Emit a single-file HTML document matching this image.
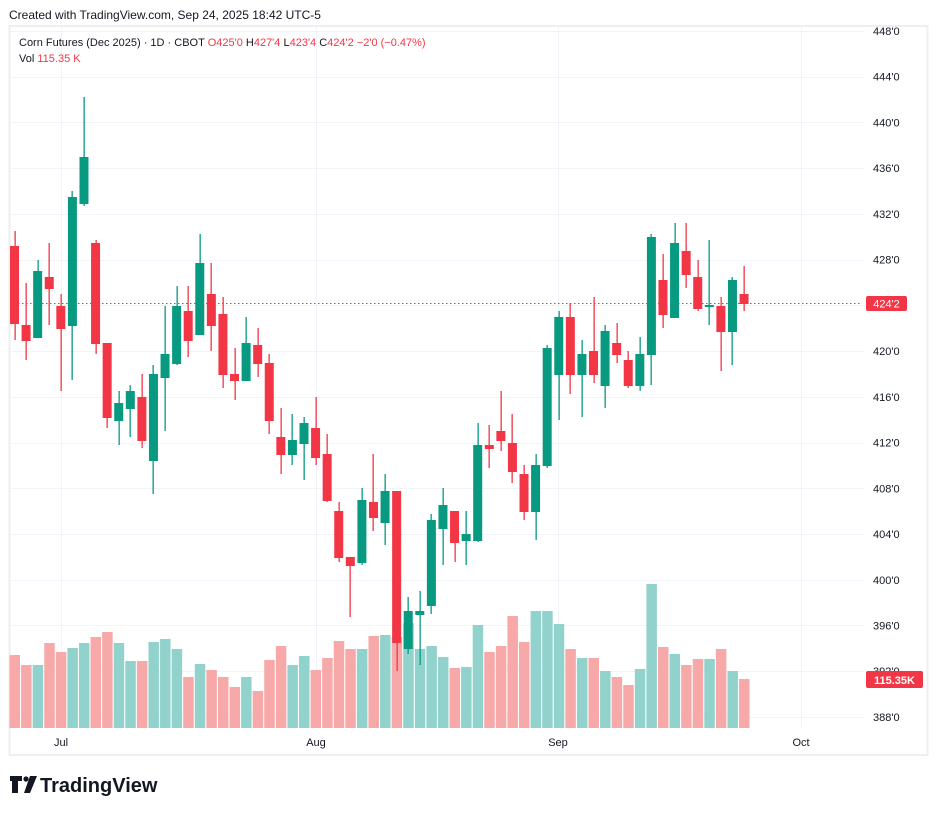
<!DOCTYPE html>
<html><head><meta charset="utf-8"><style>
body{margin:0;background:#fff;width:937px;height:816px;overflow:hidden;font-family:"Liberation Sans",sans-serif}
</style></head><body>
<svg width="937" height="816" xmlns="http://www.w3.org/2000/svg" font-family="Liberation Sans, sans-serif">
<rect width="937" height="816" fill="#fff"/>
<text x="9" y="19" font-size="12" fill="#131722">Created with TradingView.com, Sep 24, 2025 18:42 UTC-5</text>
<rect x="9.5" y="26" width="918" height="729" fill="none" stroke="#eeeeee" stroke-width="2"/>
<g id="grid" stroke="#f0f3fa" stroke-width="1"></g>
<g id="vol"></g>
<g id="c"></g>
<line x1="10" y1="303.5" x2="860" y2="303.5" stroke="#F23645" stroke-dasharray="1.5,2.5"/>
<g id="ax" font-size="11" fill="#131722"></g>
<rect x="866" y="296" width="41" height="15" rx="2" fill="#F23645"/>
<text x="886.5" y="307.5" font-size="11" fill="#fff" text-anchor="middle">424'2</text>
<rect x="866" y="671" width="57" height="17" rx="2" fill="#F23645"/>
<text x="894.5" y="684" font-size="11" fill="#fff" text-anchor="middle" font-weight="bold">115.35K</text>
<text x="19" y="46" font-size="11" fill="#131722">Corn Futures (Dec 2025) · 1D · CBOT <tspan fill="#F23645">O</tspan><tspan fill="#F23645">425'0</tspan>  H<tspan fill="#F23645">427'4</tspan>  L<tspan fill="#F23645">423'4</tspan>  C<tspan fill="#F23645">424'2</tspan>  <tspan fill="#F23645">−2'0 (−0.47%)</tspan></text>
<text x="19" y="62" font-size="11" fill="#131722">Vol <tspan fill="#F23645">115.35 K</tspan></text>
<g font-size="11" fill="#131722" text-anchor="middle">
<text x="61" y="746">Jul</text><text x="316" y="746">Aug</text><text x="558" y="746">Sep</text><text x="801" y="746">Oct</text>
</g>
<g transform="translate(10,776)">
<path d="M0 0h12v5h-4v12h-6v-12h-2z" fill="#131722"/>
<circle cx="16" cy="3" r="2.6" fill="#131722"/>
<path d="M20 0h7l-7 17h-6z" fill="#131722"/>
<text x="30" y="16" font-size="20" font-weight="bold" fill="#131722">TradingView</text>
</g>
</svg>
<script>
var ns="http://www.w3.org/2000/svg";
function el(p,t,a){var e=document.createElementNS(ns,t);for(var k in a)e.setAttribute(k,a[k]);document.getElementById(p).appendChild(e);return e;}
var labels=["448'0","444'0","440'0","436'0","432'0","428'0","424'0","420'0","416'0","412'0","408'0","404'0","400'0","396'0","392'0","388'0"];
for(var i=0;i<16;i++){var y=31+i*45.73;el('grid','line',{x1:10,x2:865,y1:Math.round(y)+.5,y2:Math.round(y)+.5});
var t=el('ax','text',{x:873,y:y+4});t.textContent=labels[i];}
[61,316,558,801].forEach(function(x){el('grid','line',{x1:x+.5,x2:x+.5,y1:27,y2:728});});
var C=[
['r',246,324,231,340],['r',325,341,283,360],['g',271,338,260,338],['r',277,289,243,325],['r',306,329,294,391],
['g',197,326,191,380],['g',157,204,97,206],['r',243,344,240,354],['r',343,418,343,428],['g',403,421,391,445],
['g',391,409,385,437],['r',397,441,374,448],['g',374,461,365,494],['g',354,378,306,431],['g',306,364,286,365],
['r',311,341,286,357],['g',263,335,234,335],['r',294,326,263,351],['r',314,375,297,388],['r',374,381,348,400],
['g',343,381,317,381],['r',345,364,328,377],['r',363,421,354,434],['r',437,455,408,474],['g',440,455,414,465],
['g',423,444,417,480],['r',428,458,397,465],['r',454,501,434,502],['r',511,558,502,562],['r',557,566,557,617],
['g',500,563,488,565],['r',502,518,454,531],['g',491,523,474,545],['r',491,643,491,671],['g',611,649,597,654],
['g',611,615,591,665],['g',520,606,514,614],['g',505,529,488,565],['r',511,543,511,562],['g',534,541,511,565],
['g',445,541,423,542],['r',445,449,425,468],['r',431,441,391,451],['r',443,472,414,483],['r',474,512,465,520],
['g',465,512,454,540],['g',348,466,345,468],['g',317,375,311,420],['r',317,375,303,394],['g',354,375,340,417],
['r',351,375,297,383],['g',331,386,325,408],['r',343,355,323,363],['r',360,386,351,388],['g',354,386,337,391],
['g',237,355,234,385],['r',280,315,254,328],['g',243,318,223,318],['r',251,275,223,288],['r',277,309,260,311],
['g',305,307,240,325],['r',306,332,297,371],['g',280,332,277,365],['r',294,304,266,311]];
var V=[655,665,665,643,652,648,643,637,632,643,661,661,642,639,649,677,664,670,677,687,677,691,660,646,665,656,670,658,641,649,649,636,635,637,623,649,646,657,668,667,625,652,646,616,642,611,611,624,649,658,658,671,677,685,669,584,647,654,665,659,659,649,671,679];
for(var i=0;i<C.length;i++){var c=C[i],x=14.5+11.58*i,col=c[0]=='g'?'#089981':'#F23645',vc=c[0]=='g'?'#92d2cc':'#f7a9a9';
el('vol','rect',{x:x-5,y:V[i],width:10.5,height:728-V[i],fill:vc});
el('c','rect',{x:Math.round(x)-0.5,y:c[3],width:1.3,height:c[4]-c[3],fill:col});
el('c','rect',{x:x-4.5,y:c[1],width:9,height:Math.max(1.5,c[2]-c[1]),fill:col});}
</script>
</body></html>
